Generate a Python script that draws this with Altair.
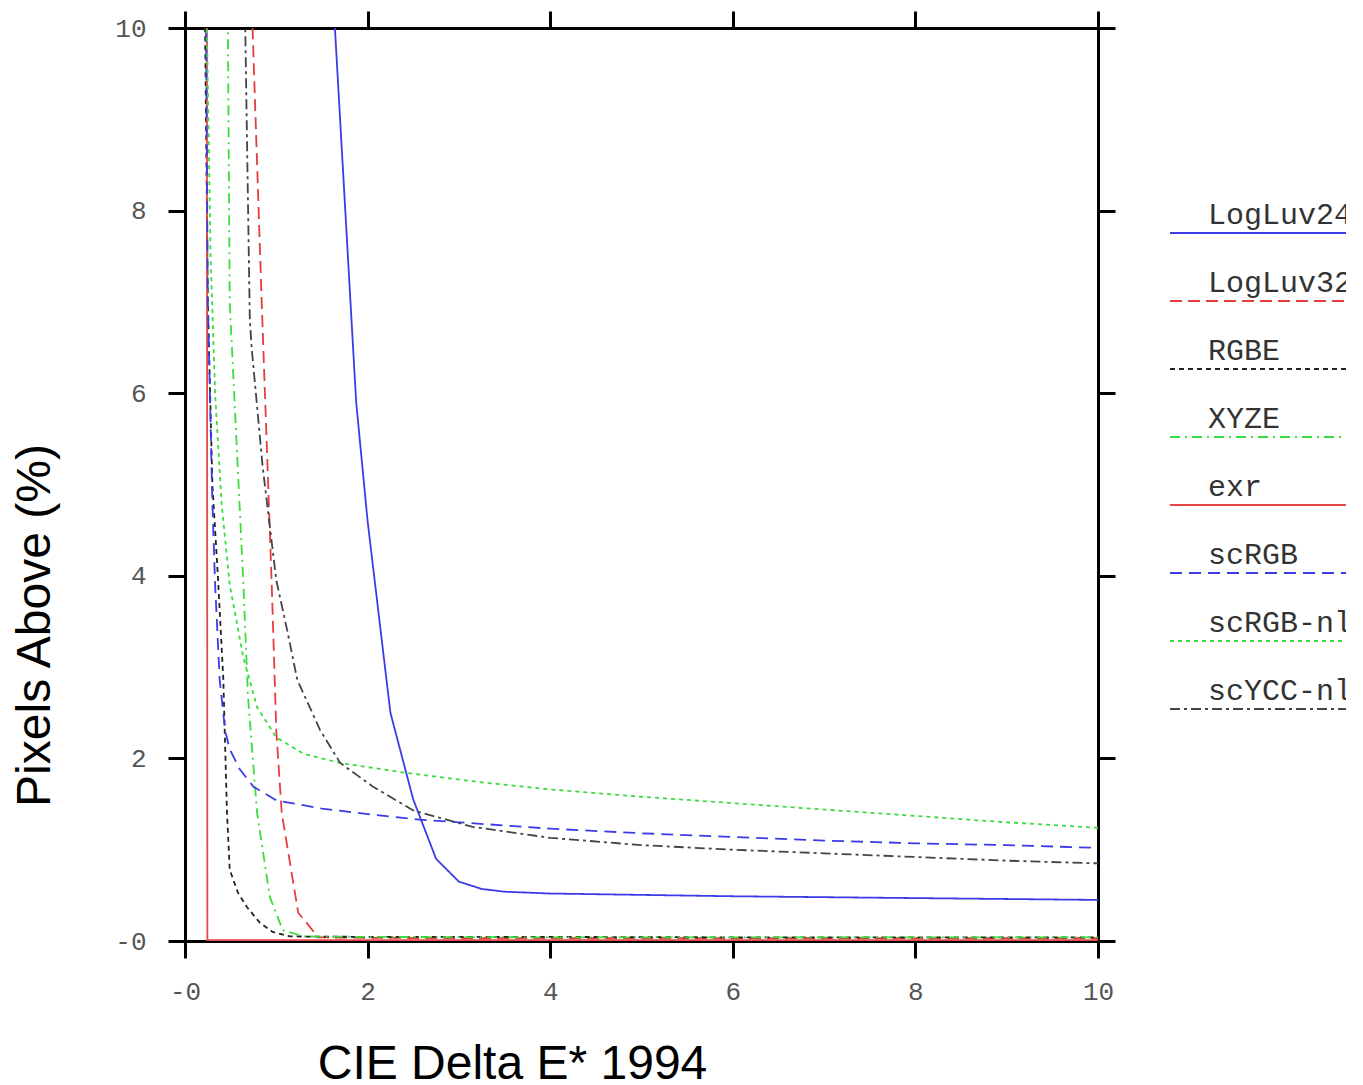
import altair as alt
import pandas as pd

series = ["LogLuv24", "LogLuv32", "RGBE", "XYZE", "exr", "scRGB", "scRGB-nl", "scYCC-nl"]
colors = ["#3c3ce6", "#e63c3c", "#222222", "#3cdc3c", "#e64646", "#3c3ce6", "#3cdc3c", "#444444"]
dashes = [[1, 0], [12, 6], [5, 4], [10, 5, 2, 5], [1, 0], [12, 7], [4, 4], [10, 4, 3, 4]]

logluv24_x = [1.5, 1.75, 1.875, 2.0, 2.25, 2.5, 2.75, 3.0, 3.25, 3.5, 4, 5, 6, 7, 8, 9, 10]
logluv24_y = [12.5, 8.1, 5.9, 4.6, 2.5, 1.55, 0.9, 0.65, 0.57, 0.54, 0.52, 0.505, 0.49, 0.48, 0.47, 0.46, 0.45]

logluv32_x = [0.72, 0.74, 0.84, 0.95, 1.0, 1.06, 1.24, 1.46, 2, 3, 4, 5, 6, 7, 8, 9, 10]
logluv32_y = [10.6, 10.0, 7.0, 3.9, 2.3, 1.4, 0.31, 0.04, 0.035, 0.03, 0.03, 0.03, 0.03, 0.03, 0.03, 0.03, 0.03]

rgbe_x = [0.21, 0.22, 0.25, 0.3, 0.36, 0.42, 0.44, 0.46, 0.49, 0.58, 0.68, 0.82, 0.96, 1.15, 2, 4, 6, 8, 10]
rgbe_y = [10.6, 10.0, 7.0, 5.0, 4.0, 2.86, 2.12, 1.4, 0.78, 0.53, 0.37, 0.2, 0.1, 0.05, 0.045, 0.045, 0.04, 0.04, 0.04]

xyze_x = [0.46, 0.47, 0.49, 0.64, 0.69, 0.79, 0.93, 1.07, 1.3, 2, 4, 6, 8, 10]
xyze_y = [10.6, 10.0, 7.0, 3.9, 2.67, 1.4, 0.48, 0.12, 0.05, 0.045, 0.04, 0.04, 0.04, 0.04]

exr_x = [0.24, 0.245, 1, 2, 4, 6, 8, 10]
exr_y = [10.6, 0.01, 0.01, 0.01, 0.01, 0.01, 0.01, 0.01]

scrgb_x = [0.22, 0.23, 0.25, 0.3, 0.33, 0.38, 0.44, 0.49, 0.6, 0.75, 1.0, 1.5, 2, 2.57, 3, 4, 5, 6, 7, 8, 9, 10]
scrgb_y = [10.6, 10.0, 7.0, 4.8, 3.9, 2.86, 2.3, 2.1, 1.88, 1.69, 1.54, 1.45, 1.39, 1.33, 1.3, 1.23, 1.18, 1.14, 1.1, 1.07, 1.05, 1.02]

scrgbnl_x = [0.23, 0.24, 0.28, 0.33, 0.4, 0.49, 0.64, 0.79, 1.0, 1.3, 1.7, 2.43, 3.23, 4, 5, 6, 7, 8, 9, 10]
scrgbnl_y = [10.6, 10.0, 7.5, 6.0, 4.8, 3.9, 3.1, 2.56, 2.23, 2.05, 1.95, 1.84, 1.74, 1.66, 1.58, 1.51, 1.44, 1.37, 1.3, 1.24]

scyccnl_x = [0.65, 0.66, 0.71, 0.73, 0.85, 1.0, 1.12, 1.23, 1.48, 1.7, 2.06, 2.5, 3.15, 4, 5, 6, 7, 8, 9, 10]
scyccnl_y = [10.6, 10.0, 6.8, 6.5, 5.2, 3.95, 3.4, 2.86, 2.31, 1.95, 1.69, 1.43, 1.25, 1.13, 1.05, 1.0, 0.96, 0.92, 0.88, 0.85]

x_ticks = [0, 2, 4, 6, 8, 10]
y_ticks = [0, 2, 4, 6, 8, 10]

curves = {
    "LogLuv24": (logluv24_x, logluv24_y),
    "LogLuv32": (logluv32_x, logluv32_y),
    "RGBE": (rgbe_x, rgbe_y),
    "XYZE": (xyze_x, xyze_y),
    "exr": (exr_x, exr_y),
    "scRGB": (scrgb_x, scrgb_y),
    "scRGB-nl": (scrgbnl_x, scrgbnl_y),
    "scYCC-nl": (scyccnl_x, scyccnl_y),
}

rows = []
for name in series:
    xs, ys = curves[name]
    for i, (xv, yv) in enumerate(zip(xs, ys)):
        rows.append({"series": name, "x": xv, "y": yv, "order": i})
df = pd.DataFrame(rows)

TICK_FONT = "Liberation Mono"
TITLE_FONT = "Liberation Sans"
zero_expr = "datum.value == 0 ? '-0' : datum.label"

common_axis = dict(
    tickSize=17, tickWidth=3, tickColor="black",
    domainColor="black", domainWidth=3, domainCap="square",
    grid=False, labelFlush=False, labelOverlap=False,
)

x_bottom = alt.Axis(
    orient="bottom", values=x_ticks, labelExpr=zero_expr,
    labelFont=TICK_FONT, labelFontSize=26, labelColor="#555555", labelPadding=20,
    title="CIE Delta E* 1994", titleFont=TITLE_FONT, titleFontSize=48,
    titleFontWeight="normal", titleColor="black", titleX=327, titleY=123,
    titleAlign="center", titleBaseline="middle", **common_axis,
)
y_left = alt.Axis(
    orient="left", values=y_ticks, labelExpr=zero_expr,
    labelFont=TICK_FONT, labelFontSize=26, labelColor="#555555", labelPadding=22,
    title="Pixels Above (%)", titleFont=TITLE_FONT, titleFontSize=48,
    titleFontWeight="normal", titleColor="black", titleX=-150, titleY=597,
    titleAlign="center", titleBaseline="middle", titleAngle=270, **common_axis,
)
x_top = alt.Axis(orient="top", values=x_ticks, labels=False, title=None, **common_axis)
y_right = alt.Axis(orient="right", values=y_ticks, labels=False, title=None, **common_axis)

xscale = alt.Scale(domain=[0, 10], nice=False, zero=False)
yscale = alt.Scale(domain=[0, 10], nice=False, zero=False)

legend = alt.Legend(
    orient="none", legendX=980, legendY=172, title=None,
    labelFont=TICK_FONT, labelFontSize=30, labelColor="#333333",
    labelOffset=13, labelLimit=600, rowPadding=31,
    symbolType="M -1 1.8 L 40 1.8", symbolSize=400, symbolStrokeWidth=2,
    symbolFillColor="transparent",
)

lines = alt.Chart(df).mark_line(clip=True, strokeWidth=1.8).encode(
    x=alt.X("x:Q", scale=xscale, axis=x_bottom),
    y=alt.Y("y:Q", scale=yscale, axis=y_left),
    color=alt.Color("series:N", scale=alt.Scale(domain=series, range=colors), legend=legend),
    strokeDash=alt.StrokeDash("series:N", scale=alt.Scale(domain=series, range=dashes), legend=legend),
    order="order:Q",
)

frame = alt.Chart(df).mark_line(clip=True, strokeOpacity=0).encode(
    x=alt.X("x:Q", scale=xscale, axis=x_top),
    y=alt.Y("y:Q", scale=yscale, axis=y_right),
    detail="series:N",
)

chart = alt.layer(lines, frame).properties(
    width=913, height=913,
    autosize=alt.AutoSizeParams(type="none"),
    padding={"left": 177, "top": 20, "right": 248, "bottom": 150},
    background="white",
).configure_view(stroke=None)

chart.save("out.html", embed_options={"renderer": "svg", "actions": False})
